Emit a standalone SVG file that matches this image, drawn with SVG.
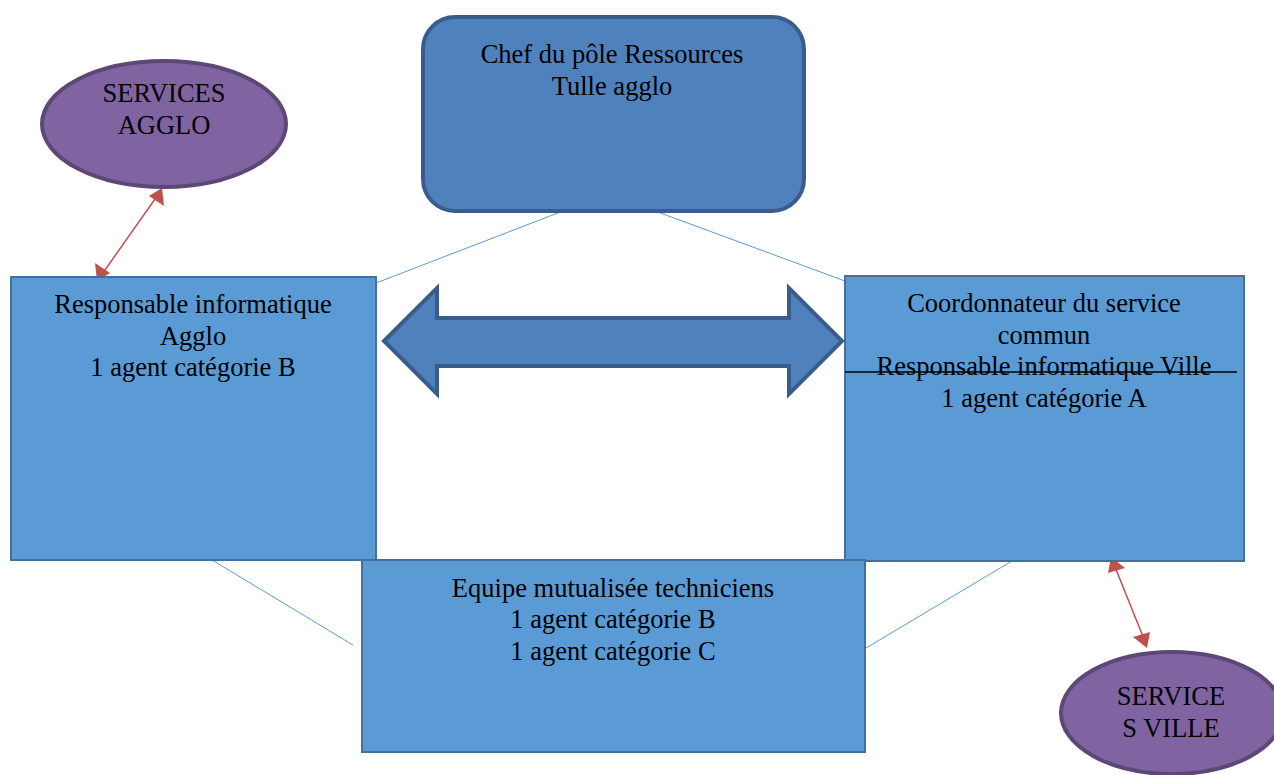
<svg xmlns="http://www.w3.org/2000/svg" width="1274" height="775" viewBox="0 0 1274 775">
<defs>
<style>
text{font-family:"Liberation Serif","Times New Roman",serif;font-size:26.5px;fill:#000;text-anchor:middle}
.box{fill:#5B9BD5;stroke:#41719C;stroke-width:2}
.ell{fill:#8064A2;stroke:#5C4776;stroke-width:4}
.thin{stroke:#5B9BD5;stroke-width:1;fill:none}
.red{stroke:#C0504D;stroke-width:1.5;fill:none}
.rh{fill:#C0504D}
</style>
</defs>
<g id="connectors">
<line class="thin" x1="563" y1="211" x2="376" y2="283"/>
<line class="thin" x1="655" y1="211" x2="845" y2="281"/>
<line class="thin" x1="212" y1="560" x2="353" y2="645"/>
<line class="thin" x1="1012" y1="561" x2="866" y2="648"/>
<line class="red" x1="160" y1="192" x2="100" y2="277"/>
<path class="rh" d="M162,188 L164,206 L149,196 z"/>
<path class="rh" d="M97,281 L95,263 L110,273 z"/>
<line class="red" x1="1113" y1="562" x2="1146" y2="644"/>
<path class="rh" d="M1111,557 L1125,568 L1108,573 z"/>
<path class="rh" d="M1147,648 L1133,637 L1150,632 z"/>
<path d="M384,341 L437,288 L437,318 L789,318 L789,288 L842,341 L789,394 L789,366 L437,366 L437,394 z" fill="#4F81BD" stroke="#385D8A" stroke-width="4"/>
</g>
<g id="chef">
<rect x="423" y="17" width="381" height="194" rx="32" fill="#4F81BD" stroke="#385D8A" stroke-width="4"/>
<text x="612" y="63">Chef du pôle Ressources</text>
<text x="612" y="95">Tulle agglo</text>
</g>
<g id="services-agglo">
<ellipse class="ell" cx="164" cy="124" rx="122" ry="63"/>
<text x="164" y="102">SERVICES</text>
<text x="164" y="134">AGGLO</text>
</g>
<g id="resp-agglo">
<rect class="box" x="11" y="277" width="365" height="283"/>
<text x="193" y="313">Responsable informatique</text>
<text x="193" y="345">Agglo</text>
<text x="193" y="376">1 agent catégorie B</text>
</g>
<g id="coordonnateur">
<rect class="box" x="845" y="276" width="399" height="285"/>
<text x="1044" y="312">Coordonnateur du service</text>
<text x="1044" y="344">commun</text>
<text x="1044" y="375">Responsable informatique Ville</text>
<line x1="845" y1="372" x2="1237" y2="372" stroke="#000" stroke-width="1.5"/>
<text x="1044" y="407">1 agent catégorie A</text>
</g>
<g id="equipe">
<rect class="box" x="362" y="560" width="503" height="192"/>
<text x="613" y="597">Equipe mutualisée techniciens</text>
<text x="613" y="628">1 agent catégorie B</text>
<text x="613" y="660">1 agent catégorie C</text>
</g>
<g id="services-ville">
<ellipse class="ell" cx="1172" cy="713" rx="111" ry="61"/>
<text x="1171" y="705">SERVICE</text>
<text x="1171" y="737">S VILLE</text>
</g>
</svg>
